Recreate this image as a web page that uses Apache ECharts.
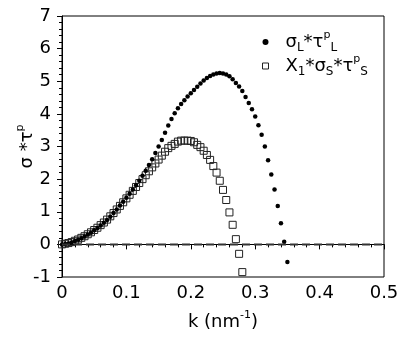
<!DOCTYPE html>
<html>
<head>
<meta charset="utf-8">
<script src="https://cdn.jsdelivr.net/npm/echarts@6/dist/echarts.min.js"></script>
<style>
html,body{margin:0;padding:0;background:#fff;}
#chart{width:415px;height:341px;}
</style>
</head>
<body>
<div id="chart"></div>
<script>
const kValues = [0,0.005,0.01,0.015,0.02,0.025,0.03,0.035,0.04,0.045,0.05,0.055,0.06,0.065,0.07,0.075,0.08,0.085,0.09,0.095,
  0.1,0.105,0.11,0.115,0.12,0.125,0.13,0.135,0.14,0.145,0.15,0.155,0.16,0.165,0.17,0.175,0.18,0.185,0.19,0.195,
  0.2,0.205,0.21,0.215,0.22,0.225,0.23,0.235,0.24,0.245,0.25,0.255,0.26,0.265,0.27,0.275,0.28,0.285,0.29,0.295,
  0.3,0.305,0.31,0.315,0.32,0.325,0.33,0.335,0.34,0.345,0.35];
const sigmaL = [0,0.01,0.03,0.06,0.10,0.14,0.19,0.24,0.30,0.36,0.43,0.50,0.58,0.66,0.75,0.85,0.96,1.07,1.19,1.31,
  1.43,1.55,1.68,1.81,1.95,2.10,2.26,2.43,2.61,2.80,3.00,3.20,3.42,3.64,3.84,4.02,4.17,4.30,4.42,4.53,
  4.63,4.73,4.83,4.93,5.02,5.10,5.16,5.21,5.24,5.25,5.24,5.21,5.15,5.06,4.95,4.84,4.70,4.52,4.33,4.14,
  3.92,3.65,3.36,3.00,2.58,2.14,1.68,1.18,0.65,0.08,-0.54];
const sigmaS = [0,0.02,0.04,0.07,0.11,0.15,0.20,0.25,0.31,0.37,0.44,0.51,0.59,0.67,0.76,0.86,0.96,1.07,1.18,1.29,
  1.41,1.52,1.64,1.76,1.88,2.00,2.12,2.24,2.36,2.48,2.60,2.72,2.84,2.95,3.02,3.08,3.15,3.18,3.18,3.18,
  3.17,3.13,3.05,2.98,2.87,2.74,2.59,2.40,2.20,1.95,1.67,1.36,0.98,0.60,0.16,-0.29,-0.85];
const zeroLineK = [0,0.5];
const zeroLineV = [0,0];
const xTickLabels = ['0','0.1','0.2','0.3','0.4','0.5'];
const yTickLabels = ['-1','0','1','2','3','4','5','6','7'];
const seriesNames = ['L','S','zero'];

const FONT = 'DejaVu Sans';
const chart = echarts.init(document.getElementById('chart'), null, {renderer:'canvas'});
const richBase = {
  n:{fontFamily:FONT,fontSize:18,color:'#000',lineHeight:24},
  sup:{fontFamily:FONT,fontSize:11,color:'#000',lineHeight:11,verticalAlign:'top'},
  sub:{fontFamily:FONT,fontSize:12,color:'#000',lineHeight:12,verticalAlign:'bottom'}
};
chart.setOption({
  animation:false,
  backgroundColor:'#fff',
  grid:{left:62,right:31,top:16,bottom:64,outerBoundsMode:'none',containLabel:false,
    show:true,borderColor:'#000',borderWidth:1,backgroundColor:'transparent'},
  legend:{
    orient:'vertical',left:257,top:25,itemGap:0,itemWidth:6,itemHeight:6,
    data:[
      {name:'L',icon:'circle',itemStyle:{color:'#000',borderWidth:0,opacity:1}},
      {name:'S',icon:'rect',itemStyle:{color:'rgba(0,0,0,0)',borderColor:'#222',borderWidth:1,opacity:1}}
    ],
    textStyle:{padding:[0,0,0,12],rich:richBase},
    formatter:function(name){
      if(name==='L') return '{n|σ}{sub|L}{n|*τ}{sup|p}{sub|L}';
      return '{n|X}{sub|1}{n|*σ}{sub|S}{n|*τ}{sup|p}{sub|S}';
    }
  },
  xAxis:{
    type:'value',min:0,max:0.5,interval:0.1,
    name:'{n|k (nm}{sup|-1}{n|)}',nameLocation:'middle',nameGap:33,nameMoveOverlap:false,
    nameTextStyle:{rich:richBase},
    axisLine:{show:true,lineStyle:{color:'#000',width:1}},
    axisTick:{show:true,inside:false,length:5,lineStyle:{color:'#000'}},
    minorTick:{show:true,splitNumber:5,length:3,lineStyle:{color:'#000'}},
    splitLine:{show:false},
    axisLabel:{fontFamily:FONT,fontSize:18,color:'#000',margin:7,
      formatter:function(v){return xTickLabels[Math.round(v*10)];}}
  },
  yAxis:{
    type:'value',min:-1,max:7,interval:1,
    name:'{n|σ *τ}{sup|p}',nameLocation:'middle',nameGap:23,nameRotate:90,nameMoveOverlap:false,
    nameTextStyle:{rich:richBase},
    axisLine:{show:true,lineStyle:{color:'#000',width:1}},
    axisTick:{show:true,inside:false,length:5,lineStyle:{color:'#000'}},
    minorTick:{show:true,splitNumber:5,length:3,lineStyle:{color:'#000'}},
    splitLine:{show:false},
    axisLabel:{fontFamily:FONT,fontSize:18,color:'#000',margin:11,
      formatter:function(v){return yTickLabels[Math.round(v)+1];}}
  },
  series:[
    {
      name:seriesNames[2],type:'line',symbol:'none',showSymbol:false,
      color:'#333333',
      lineStyle:{color:'#333333',type:'dashed',width:2,opacity:1},
      data:zeroLineK.map((k,i)=>[k,zeroLineV[i]]),
      z:5
    },
    {
      name:seriesNames[0],type:'scatter',symbol:'circle',symbolSize:4.5,
      itemStyle:{color:'#000',opacity:1},
      data:kValues.map((k,i)=>[k,sigmaL[i]]),
      z:3
    },
    {
      name:seriesNames[1],type:'scatter',symbol:'rect',symbolSize:7,
      itemStyle:{color:'rgba(0,0,0,0)',borderColor:'#222',borderWidth:1,opacity:1},
      data:sigmaS.map((v,i)=>[kValues[i],v]),
      z:2
    }
  ]
});
</script>
</body>
</html>
